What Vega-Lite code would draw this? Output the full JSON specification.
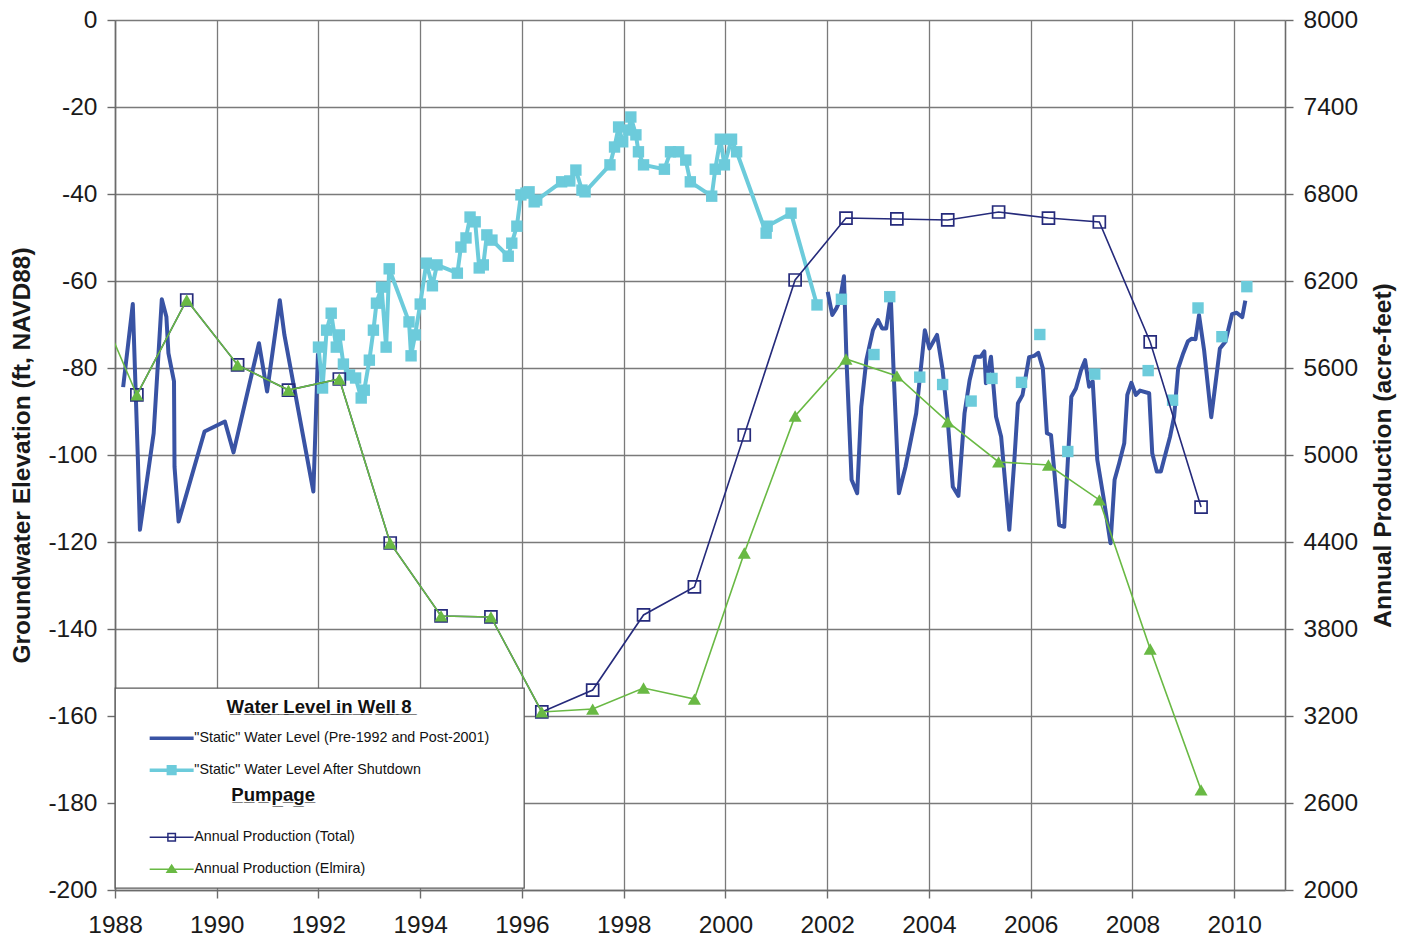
{
  "$schema": "https://vega.github.io/schema/vega-lite/v6.json",
  "width": 1170,
  "height": 870,
  "autosize": "none",
  "padding": {"left": 115, "top": 20, "right": 131, "bottom": 54},
  "background": "#ffffff",
  "config": {
    "view": {"stroke": null},
    "font": "Liberation Sans",
    "axis": {
      "labelFont": "Liberation Sans",
      "labelFontSize": 24.5,
      "labelColor": "#1a1a1a",
      "labelFlush": false,
      "labelOverlap": false,
      "titleFont": "Liberation Sans",
      "titleFontSize": 24.5,
      "titleFontWeight": "bold",
      "titleColor": "#1a1a1a",
      "domainColor": "#6b6b6b",
      "domainWidth": 1.6,
      "tickColor": "#6b6b6b",
      "tickWidth": 1.4,
      "tickSize": 8,
      "gridColor": "#7a7a7a",
      "gridWidth": 1.3,
      "gridOpacity": 1
    }
  },
  "datasets": {
    "waterLevel": [
      {"year": 1988.16, "elevation": -84.4, "series": "\"Static\" Water Level (Pre-1992 and Post-2001)", "period": "pre-1992"},
      {"year": 1988.35, "elevation": -65.3, "series": "\"Static\" Water Level (Pre-1992 and Post-2001)", "period": "pre-1992"},
      {"year": 1988.45, "elevation": -101.0, "series": "\"Static\" Water Level (Pre-1992 and Post-2001)", "period": "pre-1992"},
      {"year": 1988.49, "elevation": -117.2, "series": "\"Static\" Water Level (Pre-1992 and Post-2001)", "period": "pre-1992"},
      {"year": 1988.76, "elevation": -95.0, "series": "\"Static\" Water Level (Pre-1992 and Post-2001)", "period": "pre-1992"},
      {"year": 1988.92, "elevation": -64.2, "series": "\"Static\" Water Level (Pre-1992 and Post-2001)", "period": "pre-1992"},
      {"year": 1989.01, "elevation": -68.2, "series": "\"Static\" Water Level (Pre-1992 and Post-2001)", "period": "pre-1992"},
      {"year": 1989.05, "elevation": -76.6, "series": "\"Static\" Water Level (Pre-1992 and Post-2001)", "period": "pre-1992"},
      {"year": 1989.16, "elevation": -83.1, "series": "\"Static\" Water Level (Pre-1992 and Post-2001)", "period": "pre-1992"},
      {"year": 1989.17, "elevation": -102.7, "series": "\"Static\" Water Level (Pre-1992 and Post-2001)", "period": "pre-1992"},
      {"year": 1989.25, "elevation": -115.3, "series": "\"Static\" Water Level (Pre-1992 and Post-2001)", "period": "pre-1992"},
      {"year": 1989.76, "elevation": -94.6, "series": "\"Static\" Water Level (Pre-1992 and Post-2001)", "period": "pre-1992"},
      {"year": 1990.16, "elevation": -92.3, "series": "\"Static\" Water Level (Pre-1992 and Post-2001)", "period": "pre-1992"},
      {"year": 1990.33, "elevation": -99.4, "series": "\"Static\" Water Level (Pre-1992 and Post-2001)", "period": "pre-1992"},
      {"year": 1990.83, "elevation": -74.3, "series": "\"Static\" Water Level (Pre-1992 and Post-2001)", "period": "pre-1992"},
      {"year": 1990.99, "elevation": -85.4, "series": "\"Static\" Water Level (Pre-1992 and Post-2001)", "period": "pre-1992"},
      {"year": 1991.24, "elevation": -64.4, "series": "\"Static\" Water Level (Pre-1992 and Post-2001)", "period": "pre-1992"},
      {"year": 1991.33, "elevation": -72.4, "series": "\"Static\" Water Level (Pre-1992 and Post-2001)", "period": "pre-1992"},
      {"year": 1991.90, "elevation": -108.4, "series": "\"Static\" Water Level (Pre-1992 and Post-2001)", "period": "pre-1992"},
      {"year": 1991.99, "elevation": -76.6, "series": "\"Static\" Water Level (Pre-1992 and Post-2001)", "period": "pre-1992"},
      {"year": 2002.01, "elevation": -62.5, "series": "\"Static\" Water Level (Pre-1992 and Post-2001)", "period": "post-2001"},
      {"year": 2002.10, "elevation": -67.8, "series": "\"Static\" Water Level (Pre-1992 and Post-2001)", "period": "post-2001"},
      {"year": 2002.18, "elevation": -66.3, "series": "\"Static\" Water Level (Pre-1992 and Post-2001)", "period": "post-2001"},
      {"year": 2002.25, "elevation": -64.5, "series": "\"Static\" Water Level (Pre-1992 and Post-2001)", "period": "post-2001"},
      {"year": 2002.33, "elevation": -58.9, "series": "\"Static\" Water Level (Pre-1992 and Post-2001)", "period": "post-2001"},
      {"year": 2002.38, "elevation": -78.2, "series": "\"Static\" Water Level (Pre-1992 and Post-2001)", "period": "post-2001"},
      {"year": 2002.48, "elevation": -105.7, "series": "\"Static\" Water Level (Pre-1992 and Post-2001)", "period": "post-2001"},
      {"year": 2002.59, "elevation": -108.8, "series": "\"Static\" Water Level (Pre-1992 and Post-2001)", "period": "post-2001"},
      {"year": 2002.67, "elevation": -88.9, "series": "\"Static\" Water Level (Pre-1992 and Post-2001)", "period": "post-2001"},
      {"year": 2002.77, "elevation": -78.2, "series": "\"Static\" Water Level (Pre-1992 and Post-2001)", "period": "post-2001"},
      {"year": 2002.90, "elevation": -71.3, "series": "\"Static\" Water Level (Pre-1992 and Post-2001)", "period": "post-2001"},
      {"year": 2003.00, "elevation": -69.0, "series": "\"Static\" Water Level (Pre-1992 and Post-2001)", "period": "post-2001"},
      {"year": 2003.08, "elevation": -70.9, "series": "\"Static\" Water Level (Pre-1992 and Post-2001)", "period": "post-2001"},
      {"year": 2003.16, "elevation": -70.9, "series": "\"Static\" Water Level (Pre-1992 and Post-2001)", "period": "post-2001"},
      {"year": 2003.25, "elevation": -63.4, "series": "\"Static\" Water Level (Pre-1992 and Post-2001)", "period": "post-2001"},
      {"year": 2003.31, "elevation": -82.0, "series": "\"Static\" Water Level (Pre-1992 and Post-2001)", "period": "post-2001"},
      {"year": 2003.41, "elevation": -108.8, "series": "\"Static\" Water Level (Pre-1992 and Post-2001)", "period": "post-2001"},
      {"year": 2003.54, "elevation": -102.7, "series": "\"Static\" Water Level (Pre-1992 and Post-2001)", "period": "post-2001"},
      {"year": 2003.75, "elevation": -90.4, "series": "\"Static\" Water Level (Pre-1992 and Post-2001)", "period": "post-2001"},
      {"year": 2003.92, "elevation": -71.3, "series": "\"Static\" Water Level (Pre-1992 and Post-2001)", "period": "post-2001"},
      {"year": 2004.01, "elevation": -75.5, "series": "\"Static\" Water Level (Pre-1992 and Post-2001)", "period": "post-2001"},
      {"year": 2004.16, "elevation": -72.4, "series": "\"Static\" Water Level (Pre-1992 and Post-2001)", "period": "post-2001"},
      {"year": 2004.27, "elevation": -80.5, "series": "\"Static\" Water Level (Pre-1992 and Post-2001)", "period": "post-2001"},
      {"year": 2004.37, "elevation": -92.0, "series": "\"Static\" Water Level (Pre-1992 and Post-2001)", "period": "post-2001"},
      {"year": 2004.47, "elevation": -107.3, "series": "\"Static\" Water Level (Pre-1992 and Post-2001)", "period": "post-2001"},
      {"year": 2004.58, "elevation": -109.4, "series": "\"Static\" Water Level (Pre-1992 and Post-2001)", "period": "post-2001"},
      {"year": 2004.70, "elevation": -90.4, "series": "\"Static\" Water Level (Pre-1992 and Post-2001)", "period": "post-2001"},
      {"year": 2004.80, "elevation": -82.8, "series": "\"Static\" Water Level (Pre-1992 and Post-2001)", "period": "post-2001"},
      {"year": 2004.91, "elevation": -77.4, "series": "\"Static\" Water Level (Pre-1992 and Post-2001)", "period": "post-2001"},
      {"year": 2005.02, "elevation": -77.4, "series": "\"Static\" Water Level (Pre-1992 and Post-2001)", "period": "post-2001"},
      {"year": 2005.09, "elevation": -76.2, "series": "\"Static\" Water Level (Pre-1992 and Post-2001)", "period": "post-2001"},
      {"year": 2005.12, "elevation": -83.5, "series": "\"Static\" Water Level (Pre-1992 and Post-2001)", "period": "post-2001"},
      {"year": 2005.22, "elevation": -77.4, "series": "\"Static\" Water Level (Pre-1992 and Post-2001)", "period": "post-2001"},
      {"year": 2005.32, "elevation": -91.2, "series": "\"Static\" Water Level (Pre-1992 and Post-2001)", "period": "post-2001"},
      {"year": 2005.42, "elevation": -95.8, "series": "\"Static\" Water Level (Pre-1992 and Post-2001)", "period": "post-2001"},
      {"year": 2005.58, "elevation": -117.2, "series": "\"Static\" Water Level (Pre-1992 and Post-2001)", "period": "post-2001"},
      {"year": 2005.68, "elevation": -101.1, "series": "\"Static\" Water Level (Pre-1992 and Post-2001)", "period": "post-2001"},
      {"year": 2005.75, "elevation": -88.1, "series": "\"Static\" Water Level (Pre-1992 and Post-2001)", "period": "post-2001"},
      {"year": 2005.84, "elevation": -86.2, "series": "\"Static\" Water Level (Pre-1992 and Post-2001)", "period": "post-2001"},
      {"year": 2005.97, "elevation": -77.5, "series": "\"Static\" Water Level (Pre-1992 and Post-2001)", "period": "post-2001"},
      {"year": 2006.07, "elevation": -77.2, "series": "\"Static\" Water Level (Pre-1992 and Post-2001)", "period": "post-2001"},
      {"year": 2006.15, "elevation": -76.5, "series": "\"Static\" Water Level (Pre-1992 and Post-2001)", "period": "post-2001"},
      {"year": 2006.24, "elevation": -80.1, "series": "\"Static\" Water Level (Pre-1992 and Post-2001)", "period": "post-2001"},
      {"year": 2006.32, "elevation": -95.0, "series": "\"Static\" Water Level (Pre-1992 and Post-2001)", "period": "post-2001"},
      {"year": 2006.40, "elevation": -95.4, "series": "\"Static\" Water Level (Pre-1992 and Post-2001)", "period": "post-2001"},
      {"year": 2006.56, "elevation": -116.1, "series": "\"Static\" Water Level (Pre-1992 and Post-2001)", "period": "post-2001"},
      {"year": 2006.66, "elevation": -116.5, "series": "\"Static\" Water Level (Pre-1992 and Post-2001)", "period": "post-2001"},
      {"year": 2006.80, "elevation": -86.6, "series": "\"Static\" Water Level (Pre-1992 and Post-2001)", "period": "post-2001"},
      {"year": 2006.89, "elevation": -84.7, "series": "\"Static\" Water Level (Pre-1992 and Post-2001)", "period": "post-2001"},
      {"year": 2006.99, "elevation": -80.5, "series": "\"Static\" Water Level (Pre-1992 and Post-2001)", "period": "post-2001"},
      {"year": 2007.07, "elevation": -78.2, "series": "\"Static\" Water Level (Pre-1992 and Post-2001)", "period": "post-2001"},
      {"year": 2007.15, "elevation": -84.3, "series": "\"Static\" Water Level (Pre-1992 and Post-2001)", "period": "post-2001"},
      {"year": 2007.22, "elevation": -83.1, "series": "\"Static\" Water Level (Pre-1992 and Post-2001)", "period": "post-2001"},
      {"year": 2007.31, "elevation": -101.1, "series": "\"Static\" Water Level (Pre-1992 and Post-2001)", "period": "post-2001"},
      {"year": 2007.43, "elevation": -109.6, "series": "\"Static\" Water Level (Pre-1992 and Post-2001)", "period": "post-2001"},
      {"year": 2007.57, "elevation": -120.3, "series": "\"Static\" Water Level (Pre-1992 and Post-2001)", "period": "post-2001"},
      {"year": 2007.65, "elevation": -105.7, "series": "\"Static\" Water Level (Pre-1992 and Post-2001)", "period": "post-2001"},
      {"year": 2007.74, "elevation": -101.9, "series": "\"Static\" Water Level (Pre-1992 and Post-2001)", "period": "post-2001"},
      {"year": 2007.84, "elevation": -97.3, "series": "\"Static\" Water Level (Pre-1992 and Post-2001)", "period": "post-2001"},
      {"year": 2007.90, "elevation": -86.2, "series": "\"Static\" Water Level (Pre-1992 and Post-2001)", "period": "post-2001"},
      {"year": 2007.98, "elevation": -83.4, "series": "\"Static\" Water Level (Pre-1992 and Post-2001)", "period": "post-2001"},
      {"year": 2008.07, "elevation": -86.2, "series": "\"Static\" Water Level (Pre-1992 and Post-2001)", "period": "post-2001"},
      {"year": 2008.15, "elevation": -85.2, "series": "\"Static\" Water Level (Pre-1992 and Post-2001)", "period": "post-2001"},
      {"year": 2008.33, "elevation": -85.8, "series": "\"Static\" Water Level (Pre-1992 and Post-2001)", "period": "post-2001"},
      {"year": 2008.39, "elevation": -99.6, "series": "\"Static\" Water Level (Pre-1992 and Post-2001)", "period": "post-2001"},
      {"year": 2008.48, "elevation": -103.8, "series": "\"Static\" Water Level (Pre-1992 and Post-2001)", "period": "post-2001"},
      {"year": 2008.56, "elevation": -103.8, "series": "\"Static\" Water Level (Pre-1992 and Post-2001)", "period": "post-2001"},
      {"year": 2008.62, "elevation": -101.1, "series": "\"Static\" Water Level (Pre-1992 and Post-2001)", "period": "post-2001"},
      {"year": 2008.74, "elevation": -95.8, "series": "\"Static\" Water Level (Pre-1992 and Post-2001)", "period": "post-2001"},
      {"year": 2008.82, "elevation": -91.2, "series": "\"Static\" Water Level (Pre-1992 and Post-2001)", "period": "post-2001"},
      {"year": 2008.90, "elevation": -80.1, "series": "\"Static\" Water Level (Pre-1992 and Post-2001)", "period": "post-2001"},
      {"year": 2009.00, "elevation": -76.6, "series": "\"Static\" Water Level (Pre-1992 and Post-2001)", "period": "post-2001"},
      {"year": 2009.09, "elevation": -73.9, "series": "\"Static\" Water Level (Pre-1992 and Post-2001)", "period": "post-2001"},
      {"year": 2009.16, "elevation": -73.3, "series": "\"Static\" Water Level (Pre-1992 and Post-2001)", "period": "post-2001"},
      {"year": 2009.24, "elevation": -73.4, "series": "\"Static\" Water Level (Pre-1992 and Post-2001)", "period": "post-2001"},
      {"year": 2009.31, "elevation": -67.8, "series": "\"Static\" Water Level (Pre-1992 and Post-2001)", "period": "post-2001"},
      {"year": 2009.41, "elevation": -75.9, "series": "\"Static\" Water Level (Pre-1992 and Post-2001)", "period": "post-2001"},
      {"year": 2009.55, "elevation": -91.3, "series": "\"Static\" Water Level (Pre-1992 and Post-2001)", "period": "post-2001"},
      {"year": 2009.72, "elevation": -75.5, "series": "\"Static\" Water Level (Pre-1992 and Post-2001)", "period": "post-2001"},
      {"year": 2009.83, "elevation": -73.9, "series": "\"Static\" Water Level (Pre-1992 and Post-2001)", "period": "post-2001"},
      {"year": 2009.96, "elevation": -67.6, "series": "\"Static\" Water Level (Pre-1992 and Post-2001)", "period": "post-2001"},
      {"year": 2010.05, "elevation": -67.3, "series": "\"Static\" Water Level (Pre-1992 and Post-2001)", "period": "post-2001"},
      {"year": 2010.16, "elevation": -68.3, "series": "\"Static\" Water Level (Pre-1992 and Post-2001)", "period": "post-2001"},
      {"year": 2010.22, "elevation": -64.5, "series": "\"Static\" Water Level (Pre-1992 and Post-2001)", "period": "post-2001"},
      {"year": 1992.00, "elevation": -75.2, "series": "\"Static\" Water Level After Shutdown", "period": "1992-2001"},
      {"year": 1992.08, "elevation": -84.6, "series": "\"Static\" Water Level After Shutdown", "period": "1992-2001"},
      {"year": 1992.16, "elevation": -71.3, "series": "\"Static\" Water Level After Shutdown", "period": "1992-2001"},
      {"year": 1992.25, "elevation": -67.4, "series": "\"Static\" Water Level After Shutdown", "period": "1992-2001"},
      {"year": 1992.35, "elevation": -75.2, "series": "\"Static\" Water Level After Shutdown", "period": "1992-2001"},
      {"year": 1992.41, "elevation": -72.4, "series": "\"Static\" Water Level After Shutdown", "period": "1992-2001"},
      {"year": 1992.49, "elevation": -79.1, "series": "\"Static\" Water Level After Shutdown", "period": "1992-2001"},
      {"year": 1992.61, "elevation": -81.6, "series": "\"Static\" Water Level After Shutdown", "period": "1992-2001"},
      {"year": 1992.73, "elevation": -82.3, "series": "\"Static\" Water Level After Shutdown", "period": "1992-2001"},
      {"year": 1992.84, "elevation": -86.9, "series": "\"Static\" Water Level After Shutdown", "period": "1992-2001"},
      {"year": 1992.90, "elevation": -85.1, "series": "\"Static\" Water Level After Shutdown", "period": "1992-2001"},
      {"year": 1993.00, "elevation": -78.2, "series": "\"Static\" Water Level After Shutdown", "period": "1992-2001"},
      {"year": 1993.08, "elevation": -71.3, "series": "\"Static\" Water Level After Shutdown", "period": "1992-2001"},
      {"year": 1993.14, "elevation": -65.1, "series": "\"Static\" Water Level After Shutdown", "period": "1992-2001"},
      {"year": 1993.24, "elevation": -61.4, "series": "\"Static\" Water Level After Shutdown", "period": "1992-2001"},
      {"year": 1993.33, "elevation": -75.2, "series": "\"Static\" Water Level After Shutdown", "period": "1992-2001"},
      {"year": 1993.39, "elevation": -57.2, "series": "\"Static\" Water Level After Shutdown", "period": "1992-2001"},
      {"year": 1993.78, "elevation": -69.4, "series": "\"Static\" Water Level After Shutdown", "period": "1992-2001"},
      {"year": 1993.82, "elevation": -77.2, "series": "\"Static\" Water Level After Shutdown", "period": "1992-2001"},
      {"year": 1993.90, "elevation": -72.4, "series": "\"Static\" Water Level After Shutdown", "period": "1992-2001"},
      {"year": 1994.00, "elevation": -65.3, "series": "\"Static\" Water Level After Shutdown", "period": "1992-2001"},
      {"year": 1994.12, "elevation": -55.9, "series": "\"Static\" Water Level After Shutdown", "period": "1992-2001"},
      {"year": 1994.24, "elevation": -61.1, "series": "\"Static\" Water Level After Shutdown", "period": "1992-2001"},
      {"year": 1994.33, "elevation": -56.3, "series": "\"Static\" Water Level After Shutdown", "period": "1992-2001"},
      {"year": 1994.73, "elevation": -58.2, "series": "\"Static\" Water Level After Shutdown", "period": "1992-2001"},
      {"year": 1994.80, "elevation": -52.2, "series": "\"Static\" Water Level After Shutdown", "period": "1992-2001"},
      {"year": 1994.90, "elevation": -50.1, "series": "\"Static\" Water Level After Shutdown", "period": "1992-2001"},
      {"year": 1994.98, "elevation": -45.3, "series": "\"Static\" Water Level After Shutdown", "period": "1992-2001"},
      {"year": 1995.08, "elevation": -46.4, "series": "\"Static\" Water Level After Shutdown", "period": "1992-2001"},
      {"year": 1995.16, "elevation": -57.0, "series": "\"Static\" Water Level After Shutdown", "period": "1992-2001"},
      {"year": 1995.24, "elevation": -56.3, "series": "\"Static\" Water Level After Shutdown", "period": "1992-2001"},
      {"year": 1995.31, "elevation": -49.4, "series": "\"Static\" Water Level After Shutdown", "period": "1992-2001"},
      {"year": 1995.41, "elevation": -50.6, "series": "\"Static\" Water Level After Shutdown", "period": "1992-2001"},
      {"year": 1995.73, "elevation": -54.3, "series": "\"Static\" Water Level After Shutdown", "period": "1992-2001"},
      {"year": 1995.80, "elevation": -51.3, "series": "\"Static\" Water Level After Shutdown", "period": "1992-2001"},
      {"year": 1995.90, "elevation": -47.4, "series": "\"Static\" Water Level After Shutdown", "period": "1992-2001"},
      {"year": 1995.98, "elevation": -40.2, "series": "\"Static\" Water Level After Shutdown", "period": "1992-2001"},
      {"year": 1996.08, "elevation": -39.8, "series": "\"Static\" Water Level After Shutdown", "period": "1992-2001"},
      {"year": 1996.14, "elevation": -39.5, "series": "\"Static\" Water Level After Shutdown", "period": "1992-2001"},
      {"year": 1996.24, "elevation": -41.8, "series": "\"Static\" Water Level After Shutdown", "period": "1992-2001"},
      {"year": 1996.29, "elevation": -41.4, "series": "\"Static\" Water Level After Shutdown", "period": "1992-2001"},
      {"year": 1996.78, "elevation": -37.2, "series": "\"Static\" Water Level After Shutdown", "period": "1992-2001"},
      {"year": 1996.94, "elevation": -37.0, "series": "\"Static\" Water Level After Shutdown", "period": "1992-2001"},
      {"year": 1997.06, "elevation": -34.5, "series": "\"Static\" Water Level After Shutdown", "period": "1992-2001"},
      {"year": 1997.18, "elevation": -39.1, "series": "\"Static\" Water Level After Shutdown", "period": "1992-2001"},
      {"year": 1997.24, "elevation": -39.5, "series": "\"Static\" Water Level After Shutdown", "period": "1992-2001"},
      {"year": 1997.73, "elevation": -33.3, "series": "\"Static\" Water Level After Shutdown", "period": "1992-2001"},
      {"year": 1997.82, "elevation": -29.2, "series": "\"Static\" Water Level After Shutdown", "period": "1992-2001"},
      {"year": 1997.90, "elevation": -24.6, "series": "\"Static\" Water Level After Shutdown", "period": "1992-2001"},
      {"year": 1997.98, "elevation": -28.0, "series": "\"Static\" Water Level After Shutdown", "period": "1992-2001"},
      {"year": 1998.10, "elevation": -25.3, "series": "\"Static\" Water Level After Shutdown", "period": "1992-2001"},
      {"year": 1998.14, "elevation": -22.3, "series": "\"Static\" Water Level After Shutdown", "period": "1992-2001"},
      {"year": 1998.24, "elevation": -26.4, "series": "\"Static\" Water Level After Shutdown", "period": "1992-2001"},
      {"year": 1998.29, "elevation": -30.3, "series": "\"Static\" Water Level After Shutdown", "period": "1992-2001"},
      {"year": 1998.39, "elevation": -33.3, "series": "\"Static\" Water Level After Shutdown", "period": "1992-2001"},
      {"year": 1998.80, "elevation": -34.3, "series": "\"Static\" Water Level After Shutdown", "period": "1992-2001"},
      {"year": 1998.92, "elevation": -30.3, "series": "\"Static\" Water Level After Shutdown", "period": "1992-2001"},
      {"year": 1999.08, "elevation": -30.3, "series": "\"Static\" Water Level After Shutdown", "period": "1992-2001"},
      {"year": 1999.22, "elevation": -32.2, "series": "\"Static\" Water Level After Shutdown", "period": "1992-2001"},
      {"year": 1999.31, "elevation": -37.2, "series": "\"Static\" Water Level After Shutdown", "period": "1992-2001"},
      {"year": 1999.73, "elevation": -40.5, "series": "\"Static\" Water Level After Shutdown", "period": "1992-2001"},
      {"year": 1999.80, "elevation": -34.3, "series": "\"Static\" Water Level After Shutdown", "period": "1992-2001"},
      {"year": 1999.90, "elevation": -27.4, "series": "\"Static\" Water Level After Shutdown", "period": "1992-2001"},
      {"year": 1999.98, "elevation": -33.3, "series": "\"Static\" Water Level After Shutdown", "period": "1992-2001"},
      {"year": 2000.12, "elevation": -27.4, "series": "\"Static\" Water Level After Shutdown", "period": "1992-2001"},
      {"year": 2000.22, "elevation": -30.3, "series": "\"Static\" Water Level After Shutdown", "period": "1992-2001"},
      {"year": 2000.80, "elevation": -49.0, "series": "\"Static\" Water Level After Shutdown", "period": "1992-2001"},
      {"year": 2000.82, "elevation": -47.4, "series": "\"Static\" Water Level After Shutdown", "period": "1992-2001"},
      {"year": 2001.29, "elevation": -44.4, "series": "\"Static\" Water Level After Shutdown", "period": "1992-2001"},
      {"year": 2001.80, "elevation": -65.5, "series": "\"Static\" Water Level After Shutdown", "period": "1992-2001"},
      {"year": 2002.28, "elevation": -64.2, "series": "\"Static\" Water Level After Shutdown", "period": "2002-2010"},
      {"year": 2002.92, "elevation": -76.9, "series": "\"Static\" Water Level After Shutdown", "period": "2002-2010"},
      {"year": 2003.23, "elevation": -63.6, "series": "\"Static\" Water Level After Shutdown", "period": "2002-2010"},
      {"year": 2003.82, "elevation": -82.1, "series": "\"Static\" Water Level After Shutdown", "period": "2002-2010"},
      {"year": 2004.27, "elevation": -83.8, "series": "\"Static\" Water Level After Shutdown", "period": "2002-2010"},
      {"year": 2004.83, "elevation": -87.6, "series": "\"Static\" Water Level After Shutdown", "period": "2002-2010"},
      {"year": 2005.24, "elevation": -82.4, "series": "\"Static\" Water Level After Shutdown", "period": "2002-2010"},
      {"year": 2005.82, "elevation": -83.3, "series": "\"Static\" Water Level After Shutdown", "period": "2002-2010"},
      {"year": 2006.18, "elevation": -72.3, "series": "\"Static\" Water Level After Shutdown", "period": "2002-2010"},
      {"year": 2006.73, "elevation": -99.2, "series": "\"Static\" Water Level After Shutdown", "period": "2002-2010"},
      {"year": 2007.26, "elevation": -81.4, "series": "\"Static\" Water Level After Shutdown", "period": "2002-2010"},
      {"year": 2008.31, "elevation": -80.6, "series": "\"Static\" Water Level After Shutdown", "period": "2002-2010"},
      {"year": 2008.79, "elevation": -87.4, "series": "\"Static\" Water Level After Shutdown", "period": "2002-2010"},
      {"year": 2009.29, "elevation": -66.2, "series": "\"Static\" Water Level After Shutdown", "period": "2002-2010"},
      {"year": 2009.76, "elevation": -72.8, "series": "\"Static\" Water Level After Shutdown", "period": "2002-2010"},
      {"year": 2010.25, "elevation": -61.3, "series": "\"Static\" Water Level After Shutdown", "period": "2002-2010"}
    ],
    "production": [
      {"year": 1988.43, "acreFeet": 5414, "series": "Annual Production (Total)"},
      {"year": 1989.41, "acreFeet": 6069, "series": "Annual Production (Total)"},
      {"year": 1990.41, "acreFeet": 5621, "series": "Annual Production (Total)"},
      {"year": 1991.41, "acreFeet": 5448, "series": "Annual Production (Total)"},
      {"year": 1992.41, "acreFeet": 5524, "series": "Annual Production (Total)"},
      {"year": 1993.41, "acreFeet": 4393, "series": "Annual Production (Total)"},
      {"year": 1994.41, "acreFeet": 3890, "series": "Annual Production (Total)"},
      {"year": 1995.39, "acreFeet": 3883, "series": "Annual Production (Total)"},
      {"year": 1996.39, "acreFeet": 3228, "series": "Annual Production (Total)"},
      {"year": 1997.39, "acreFeet": 3379, "series": "Annual Production (Total)"},
      {"year": 1998.39, "acreFeet": 3897, "series": "Annual Production (Total)"},
      {"year": 1999.39, "acreFeet": 4090, "series": "Annual Production (Total)"},
      {"year": 2000.37, "acreFeet": 5138, "series": "Annual Production (Total)"},
      {"year": 2001.37, "acreFeet": 6207, "series": "Annual Production (Total)"},
      {"year": 2002.37, "acreFeet": 6634, "series": "Annual Production (Total)"},
      {"year": 2003.37, "acreFeet": 6628, "series": "Annual Production (Total)"},
      {"year": 2004.37, "acreFeet": 6621, "series": "Annual Production (Total)"},
      {"year": 2005.37, "acreFeet": 6676, "series": "Annual Production (Total)"},
      {"year": 2006.35, "acreFeet": 6634, "series": "Annual Production (Total)"},
      {"year": 2007.35, "acreFeet": 6607, "series": "Annual Production (Total)"},
      {"year": 2008.35, "acreFeet": 5780, "series": "Annual Production (Total)"},
      {"year": 2009.35, "acreFeet": 4641, "series": "Annual Production (Total)"},
      {"year": 1987.43, "acreFeet": 6230, "series": "Annual Production (Elmira)"},
      {"year": 1988.43, "acreFeet": 5414, "series": "Annual Production (Elmira)"},
      {"year": 1989.41, "acreFeet": 6069, "series": "Annual Production (Elmira)"},
      {"year": 1990.41, "acreFeet": 5621, "series": "Annual Production (Elmira)"},
      {"year": 1991.41, "acreFeet": 5448, "series": "Annual Production (Elmira)"},
      {"year": 1992.41, "acreFeet": 5524, "series": "Annual Production (Elmira)"},
      {"year": 1993.41, "acreFeet": 4393, "series": "Annual Production (Elmira)"},
      {"year": 1994.41, "acreFeet": 3890, "series": "Annual Production (Elmira)"},
      {"year": 1995.39, "acreFeet": 3883, "series": "Annual Production (Elmira)"},
      {"year": 1996.39, "acreFeet": 3228, "series": "Annual Production (Elmira)"},
      {"year": 1997.39, "acreFeet": 3248, "series": "Annual Production (Elmira)"},
      {"year": 1998.39, "acreFeet": 3393, "series": "Annual Production (Elmira)"},
      {"year": 1999.39, "acreFeet": 3317, "series": "Annual Production (Elmira)"},
      {"year": 2000.37, "acreFeet": 4324, "series": "Annual Production (Elmira)"},
      {"year": 2001.37, "acreFeet": 5269, "series": "Annual Production (Elmira)"},
      {"year": 2002.37, "acreFeet": 5662, "series": "Annual Production (Elmira)"},
      {"year": 2003.37, "acreFeet": 5545, "series": "Annual Production (Elmira)"},
      {"year": 2004.37, "acreFeet": 5228, "series": "Annual Production (Elmira)"},
      {"year": 2005.37, "acreFeet": 4952, "series": "Annual Production (Elmira)"},
      {"year": 2006.35, "acreFeet": 4931, "series": "Annual Production (Elmira)"},
      {"year": 2007.35, "acreFeet": 4690, "series": "Annual Production (Elmira)"},
      {"year": 2008.35, "acreFeet": 3662, "series": "Annual Production (Elmira)"},
      {"year": 2009.35, "acreFeet": 2690, "series": "Annual Production (Elmira)"}
    ]
  },
  "encoding": {
    "x": {
      "field": "year",
      "type": "quantitative",
      "scale": {"domain": [1988, 2011], "nice": false, "zero": false},
      "axis": {
        "title": null,
        "values": [1988, 1990, 1992, 1994, 1996, 1998, 2000, 2002, 2004, 2006, 2008, 2010],
        "format": "d",
        "grid": true,
        "labelPadding": 15
      }
    },
    "color": {
      "field": "series",
      "type": "nominal",
      "scale": {
        "domain": [
          "\"Static\" Water Level (Pre-1992 and Post-2001)",
          "\"Static\" Water Level After Shutdown",
          "Pumpage",
          "Annual Production (Total)",
          "Annual Production (Elmira)"
        ],
        "range": ["#3953a4", "#6ccbdb", "#ffffff", "#252a7b", "#69b944"]
      },
      "legend": {
        "title": "W\u0332a\u0332t\u0332e\u0332r\u0332 \u0332L\u0332e\u0332v\u0332e\u0332l\u0332 \u0332i\u0332n\u0332 \u0332W\u0332e\u0332l\u0332l\u0332 \u03328\u0332",
        "orient": "none",
        "legendX": 0,
        "legendY": 668,
        "direction": "vertical",
        "padding": 10,
        "fillColor": "#ffffff",
        "strokeColor": "#5a5a5a",
        "titleFont": "Liberation Sans",
        "titleFontSize": 18.6,
        "titleFontWeight": "bold",
        "titleColor": "#111111",
        "titleAnchor": "middle",
        "titlePadding": 14.4,
        "titleLimit": 500,
        "labelFont": "Liberation Sans",
        "labelFontSize": 14.3,
        "labelColor": "#111111",
        "labelLimit": 500,
        "labelOffset": 15.5,
        "symbolSize": 196,
        "symbolStrokeWidth": 0,
        "symbolOffset": 39.5,
        "rowPadding": 0,
        "labelExpr": "datum.index === 2 ? 'P\u0332u\u0332m\u0332p\u0332a\u0332g\u0332e\u0332' : datum.label",
        "encode": {
          "legend": {"update": {"strokeWidth": {"value": 1.3}}},
          "symbols": {
            "update": {
              "shape": {"signal": "datum.index === 0 ? 'M-3.14,-0.25H3.14V0.25H-3.14Z M0,-2.2 M0,2.2 M48.9,0' : datum.index === 1 ? 'M-3.14,-0.25H3.14V0.25H-3.14Z M-0.72,-0.72H0.72V0.72H-0.72Z M0,-2.2 M0,2.2' : datum.index === 3 ? 'M-3.14,-0.11H3.14V0.11H-3.14Z M-0.64,-0.64H0.64V0.64H-0.64Z M-0.43,-0.43V0.43H0.43V-0.43Z M0,-2.2 M0,2.2' : datum.index === 4 ? 'M-3.14,-0.11H3.14V0.11H-3.14Z M0,-0.78L0.86,0.56H-0.86Z M0,-2.2 M0,1.2' : 'M0,3.57'"},
              "fill": {"signal": "datum.index === 0 ? '#3953a4' : datum.index === 1 ? '#6ccbdb' : datum.index === 3 ? '#252a7b' : datum.index === 4 ? '#69b944' : 'transparent'"},
              "stroke": {"value": "transparent"},
              "strokeWidth": {"value": 0},
              "size": {"value": 196},
              "opacity": {"value": 1},
              "fillOpacity": {"value": 1}
            }
          },
          "labels": {
            "update": {
              "fontWeight": {"signal": "datum.index === 2 ? 'bold' : 'normal'"},
              "fontSize": {"signal": "datum.index === 2 ? 18.6 : 14.3"},
              "dx": {"signal": "datum.index === 2 ? 37 : 0"}
            }
          }
        }
      }
    }
  },
  "layer": [
    {
      "data": {"name": "waterLevel"},
      "encoding": {
        "y": {
          "field": "elevation",
          "type": "quantitative",
          "scale": {"domain": [-200, 0], "nice": false, "zero": false},
          "axis": {
            "orient": "left",
            "title": "Groundwater Elevation (ft, NAVD88)",
            "values": [-200, -180, -160, -140, -120, -100, -80, -60, -40, -20, 0],
            "labelExpr": "datum.value + ''",
            "grid": true,
            "labelPadding": 10,
            "titleAngle": 270,
            "titleBaseline": "middle",
            "titleX": -93,
            "titleY": 435
          }
        }
      },
      "layer": [
        {
          "transform": [{"filter": {"field": "series", "equal": "\"Static\" Water Level (Pre-1992 and Post-2001)"}}],
          "mark": {"type": "line", "strokeWidth": 4, "strokeJoin": "round"},
          "encoding": {"detail": {"field": "period"}}
        },
        {
          "transform": [{"filter": {"field": "period", "equal": "1992-2001"}}],
          "mark": {"type": "line", "strokeWidth": 4, "strokeJoin": "round"}
        },
        {
          "transform": [{"filter": {"field": "series", "equal": "\"Static\" Water Level After Shutdown"}}],
          "mark": {"type": "point", "shape": "square", "filled": true, "size": 130, "opacity": 1}
        }
      ]
    },
    {
      "data": {"name": "production"},
      "encoding": {
        "y": {
          "field": "acreFeet",
          "type": "quantitative",
          "scale": {"domain": [2000, 8000], "nice": false, "zero": false},
          "axis": {
            "orient": "right",
            "title": "Annual Production (acre-feet)",
            "values": [2000, 2600, 3200, 3800, 4400, 5000, 5600, 6200, 6800, 7400, 8000],
            "format": "d",
            "grid": false,
            "labelPadding": 10,
            "titleAngle": 270,
            "titleBaseline": "middle",
            "titleX": 98,
            "titleY": 435
          }
        }
      },
      "layer": [
        {
          "transform": [{"filter": {"field": "series", "equal": "Annual Production (Total)"}}],
          "mark": {"type": "line", "strokeWidth": 1.6, "clip": true}
        },
        {
          "transform": [{"filter": {"field": "series", "equal": "Annual Production (Total)"}}],
          "mark": {"type": "point", "shape": "square", "filled": false, "size": 144, "strokeWidth": 1.7, "opacity": 1, "clip": true}
        },
        {
          "transform": [{"filter": {"field": "series", "equal": "Annual Production (Elmira)"}}],
          "mark": {"type": "line", "strokeWidth": 1.6, "clip": true}
        },
        {
          "transform": [{"filter": {"field": "series", "equal": "Annual Production (Elmira)"}}],
          "mark": {"type": "point", "shape": "triangle-up", "filled": true, "size": 170, "opacity": 1, "clip": true}
        }
      ]
    }
  ],
  "resolve": {"scale": {"y": "independent"}}
}
